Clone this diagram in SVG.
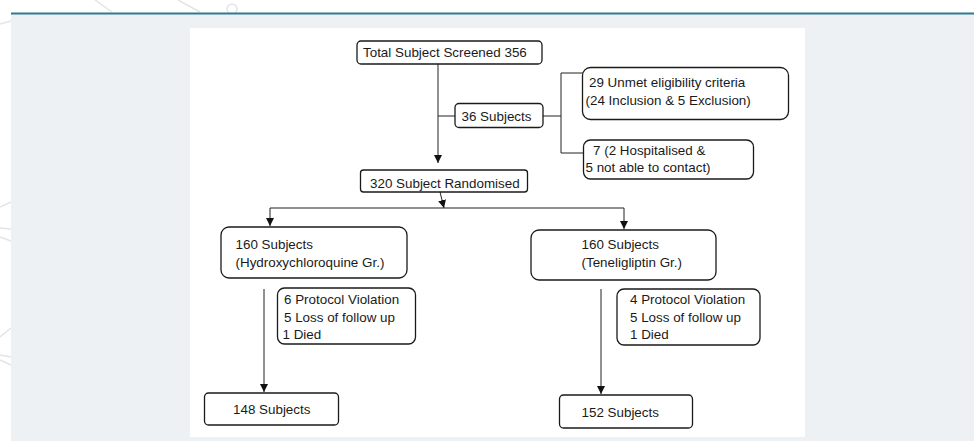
<svg xmlns="http://www.w3.org/2000/svg" width="974" height="441" viewBox="0 0 974 441">
<style>
.bx{fill:#fff;stroke:#1a1a1a;stroke-width:1.3}
.t{font-family:"Liberation Sans",Arial,sans-serif;font-size:13.4px;fill:#1a1a1a}
.c{fill:none;stroke:#222;stroke-width:1}
.deco{stroke:#e2e4e6;stroke-width:1.5;fill:none}
</style>
<defs>
<marker id="ah" markerUnits="userSpaceOnUse" markerWidth="8" markerHeight="9" refX="8" refY="4" orient="auto" viewBox="0 0 8 8">
<path d="M0,0 L8,4 L0,8 z" fill="#111"/>
</marker>
</defs>
<rect x="0" y="0" width="974" height="441" fill="#fff"/>
<g id="decor">
<path class="deco" d="M95,0 L112,12 M178,0 L200,12 M0,24 L11,21 M0,207 L11,202 M0,228 L11,229 M0,237 L11,241 M0,337 L11,328 M0,355 L11,357 M0,360 L11,365"/>
<circle class="deco" cx="232" cy="9" r="5"/>
</g>
<rect x="11" y="14" width="963" height="427" fill="#edf1f4"/>
<rect x="11" y="12.5" width="963" height="2" fill="#2c7d92"/>
<rect x="190" y="28" width="615" height="409" fill="#fff"/>
<g id="connectors">
<line class="c" x1="438" y1="64" x2="438" y2="163" marker-end="url(#ah)" stroke="#555"/>
<line class="c" x1="438" y1="116" x2="455" y2="116"/>
<line class="c" x1="543" y1="116" x2="561" y2="116"/>
<path class="c" d="M583,73 H561 V153 H583"/>
<line class="c" x1="440" y1="192" x2="444" y2="208" marker-end="url(#ah)"/>
<line class="c" x1="270" y1="208" x2="624" y2="208"/>
<line class="c" x1="270" y1="208" x2="270" y2="226" marker-end="url(#ah)"/>
<line class="c" x1="624" y1="208" x2="624" y2="229" marker-end="url(#ah)"/>
<line class="c" x1="264" y1="289" x2="264" y2="392" stroke="#aaa" marker-end="url(#ah)"/>
<line class="c" x1="601" y1="289" x2="601" y2="394" stroke="#555" marker-end="url(#ah)"/>
</g>
<g id="n-screened">
<rect class="bx" x="357" y="41" width="185" height="23" rx="4"/>
<text class="t" x="363" y="57">Total Subject Screened 356</text>
</g>
<g id="n-36">
<rect class="bx" x="455" y="103.5" width="88" height="24" rx="4"/>
<text class="t" x="461.5" y="121">36 Subjects</text>
</g>
<g id="n-unmet">
<rect class="bx" x="582.5" y="67.5" width="206" height="52" rx="8"/>
<text class="t" x="589" y="87">29 Unmet eligibility criteria</text>
<text class="t" x="585.5" y="105">(24 Inclusion &amp; 5 Exclusion)</text>
</g>
<g id="n-hosp">
<rect class="bx" x="583.5" y="140" width="170" height="39" rx="7"/>
<text class="t" x="593" y="154.5">7 (2 Hospitalised &amp;</text>
<text class="t" x="585.5" y="171.5">5 not able to contact)</text>
</g>
<g id="n-rand">
<rect class="bx" x="360.5" y="170" width="167" height="22" rx="3"/>
<text class="t" x="370" y="188">320 Subject Randomised</text>
</g>
<g id="n-hcq">
<rect class="bx" x="221" y="227" width="186" height="51" rx="8"/>
<text class="t" x="235.5" y="248.5">160 Subjects</text>
<text class="t" x="235.5" y="267">(Hydroxychloroquine Gr.)</text>
</g>
<g id="n-tene">
<rect class="bx" x="531" y="230" width="185" height="50" rx="8"/>
<text class="t" x="581.5" y="249">160 Subjects</text>
<text class="t" x="581.5" y="266.5">(Teneligliptin Gr.)</text>
</g>
<g id="n-hcq-drop">
<rect class="bx" x="277.5" y="288" width="138" height="56" rx="7"/>
<text class="t" x="284" y="303.5">6 Protocol Violation</text>
<text class="t" x="284" y="321.5">5 Loss of follow up</text>
<text class="t" x="282.5" y="339">1 Died</text>
</g>
<g id="n-tene-drop">
<rect class="bx" x="617" y="289" width="143" height="56" rx="7"/>
<text class="t" x="630" y="303.5">4 Protocol Violation</text>
<text class="t" x="630" y="321.5">5 Loss of follow up</text>
<text class="t" x="630" y="339">1 Died</text>
</g>
<g id="n-148">
<rect class="bx" x="204.5" y="393" width="134" height="32" rx="4"/>
<text class="t" x="233" y="414">148 Subjects</text>
</g>
<g id="n-152">
<rect class="bx" x="559.5" y="395" width="133" height="33" rx="4"/>
<text class="t" x="581.5" y="416.5">152 Subjects</text>
</g>
</svg>
